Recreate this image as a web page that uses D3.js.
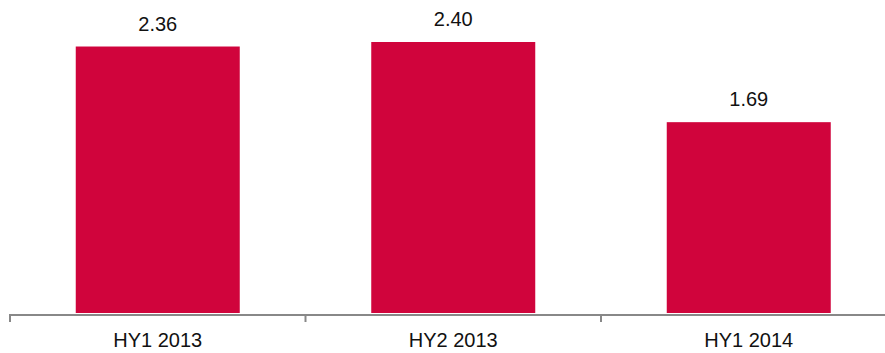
<!DOCTYPE html>
<html>
<head>
<meta charset="utf-8">
<script src="https://cdn.jsdelivr.net/npm/d3@7"></script>
<style>
  html, body { margin: 0; padding: 0; background: #fff; }
  svg { display: block; }
  text { font-family: "Liberation Sans", Arial, Helvetica, sans-serif; fill: #111; }
</style>
</head>
<body>
<svg id="chart" width="885" height="353"></svg>
<script>
// Half-year values
const categories = ["HY1 2013", "HY2 2013", "HY1 2014"];
const values = [2.36, 2.40, 1.69];
const valueLabels = ["2.36", "2.40", "1.69"];

const width = 885, height = 353;
const baseY = 313;
const svg = d3.select("#chart");

const x = d3.scaleBand()
  .domain(categories)
  .range([10, 896.5])
  .paddingInner(0.445)
  .paddingOuter(0.2225);

const y = d3.scaleLinear()
  .domain([0, 2.4])
  .range([baseY, 42]);

// Bars
svg.append("g").selectAll("rect")
  .data(categories)
  .join("rect")
  .attr("x", d => x(d))
  .attr("width", x.bandwidth())
  .attr("y", (d, i) => y(values[i]))
  .attr("height", (d, i) => baseY - y(values[i]))
  .attr("fill", "#D0043C");

// Value labels above bars
svg.append("g").selectAll("text")
  .data(categories)
  .join("text")
  .attr("x", d => x(d) + x.bandwidth() / 2)
  .attr("y", (d, i) => y(values[i]) - 16)
  .attr("text-anchor", "middle")
  .attr("font-size", "20px")
  .text((d, i) => valueLabels[i]);

// Category axis: baseline with ticks at band boundaries
const axisY = 315;
const axis = svg.append("g");
axis.append("line")
  .attr("x1", 10).attr("x2", width)
  .attr("y1", axisY).attr("y2", axisY)
  .attr("stroke", "#888").attr("stroke-width", 2);

const step = x.step();
const boundaries = categories.map(d => x(d) - x.paddingInner() * step / 2);
axis.selectAll("line.tick")
  .data(boundaries)
  .join("line")
  .attr("class", "tick")
  .attr("x1", d => d).attr("x2", d => d)
  .attr("y1", axisY - 1).attr("y2", axisY + 7)
  .attr("stroke", "#888").attr("stroke-width", 2);

axis.selectAll("text")
  .data(categories)
  .join("text")
  .attr("x", d => x(d) + x.bandwidth() / 2)
  .attr("y", 347)
  .attr("text-anchor", "middle")
  .attr("font-size", "20px")
  .text(d => d);
</script>
</body>
</html>
